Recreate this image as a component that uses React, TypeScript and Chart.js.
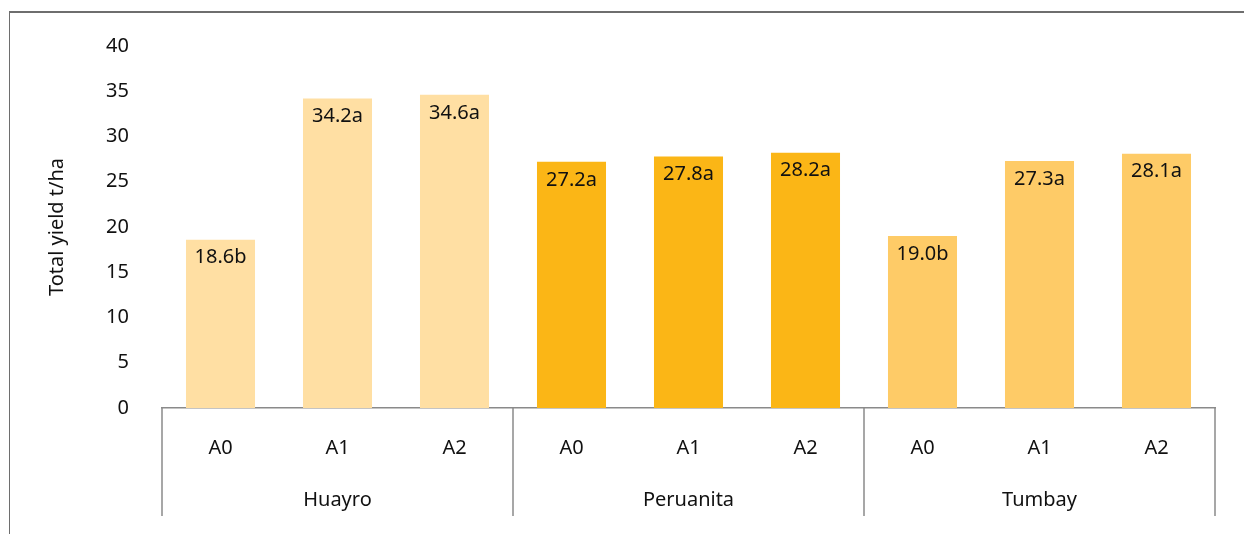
import React, { useEffect, useRef } from "react";
import { Chart, registerables } from "chart.js";

Chart.register(...registerables);

const categories = ["A0", "A1", "A2", "A0", "A1", "A2", "A0", "A1", "A2"];
const groups = ["Huayro", "Peruanita", "Tumbay"];
const values = [18.6, 34.2, 34.6, 27.2, 27.8, 28.2, 19.0, 27.3, 28.1];
const valueLabels = ["18.6b", "34.2a", "34.6a", "27.2a", "27.8a", "28.2a", "19.0b", "27.3a", "28.1a"];
const groupColors = ["#FFDFA3", "#FBB616", "#FECB67"];
const yTitle = "Total yield t/ha";

const FONT = "'Noto Sans', 'Open Sans', sans-serif";
const FS = 20;

export default function App() {
  const ref = useRef<HTMLCanvasElement | null>(null);
  useEffect(() => {
    if (!ref.current) return;
    const groupPlugin = {
      id: "groupPlugin",
      afterDraw(chart: any) {
        const ctx = chart.ctx;
        const x = chart.scales.x;
        const y = chart.scales.y;
        const area = chart.chartArea;
        ctx.save();
        // value labels
        ctx.font = `${FS}px ${FONT}`;
        ctx.fillStyle = "#111";
        ctx.textAlign = "center";
        ctx.textBaseline = "middle";
        values.forEach((v, i) => {
          ctx.fillText(valueLabels[i], x.getPixelForValue(i), y.getPixelForValue(v) + 18);
        });
        // dividers
        ctx.strokeStyle = "#8a8a8a";
        ctx.lineWidth = 1.5;
        const half = (x.getPixelForValue(1) - x.getPixelForValue(0)) / 2;
        for (let g = 0; g <= groups.length; g++) {
          const idx = g * 3;
          const px = Math.round(x.getPixelForValue(idx) - half);
          ctx.beginPath();
          ctx.moveTo(px, area.bottom);
          ctx.lineTo(px, area.bottom + 108);
          ctx.stroke();
        }
        // group labels
        groups.forEach((name, g) => {
          const px = x.getPixelForValue(g * 3 + 1);
          ctx.fillText(name, px, area.bottom + 92);
        });
        ctx.restore();
      },
    };
    const chart = new Chart(ref.current, {
      type: "bar",
      data: {
        labels: categories,
        datasets: [
          {
            data: values,
            backgroundColor: values.map((_, i) => groupColors[Math.floor(i / 3)]),
            barPercentage: 0.59,
            categoryPercentage: 1,
          },
        ],
      },
      options: {
        animation: false,
        responsive: false,
        maintainAspectRatio: false,
        layout: { padding: { left: 0, top: 46, right: 29, bottom: 0 } },
        plugins: { legend: { display: false }, tooltip: { enabled: false } },
        scales: {
          x: {
            grid: { display: false },
            border: { display: true, color: "#8a8a8a", width: 1.5 },
            ticks: { color: "#111", font: { size: FS, family: FONT }, padding: 20 },
            afterFit(scale: any) {
              scale.height = 534 - 408;
            },
          },
          y: {
            min: 0,
            max: 40,
            grid: { display: false },
            border: { display: false },
            ticks: { stepSize: 5, color: "#111", font: { size: FS, family: FONT }, padding: 25 },
            title: {
              display: true,
              text: yTitle,
              color: "#111",
              font: { size: FS, family: FONT },
              padding: { top: 45, bottom: 0 },
            },
            afterFit(scale: any) {
              scale.width = 162;
            },
          },
        },
      },
      plugins: [groupPlugin],
    });
    return () => chart.destroy();
  }, []);
  return (
    <div style={{ position: "fixed", left: 0, top: 0, width: 1244, height: 534, background: "#fff" }}>
      <div
        style={{
          position: "absolute",
          left: 9,
          top: 11,
          right: -5,
          bottom: -5,
          borderTop: "2px solid #6e6e6e",
          borderLeft: "1.5px solid #6e6e6e",
        }}
      />
      <canvas ref={ref} width={1244} height={534} style={{ position: "absolute", left: 0, top: 0 }} />
    </div>
  );
}
